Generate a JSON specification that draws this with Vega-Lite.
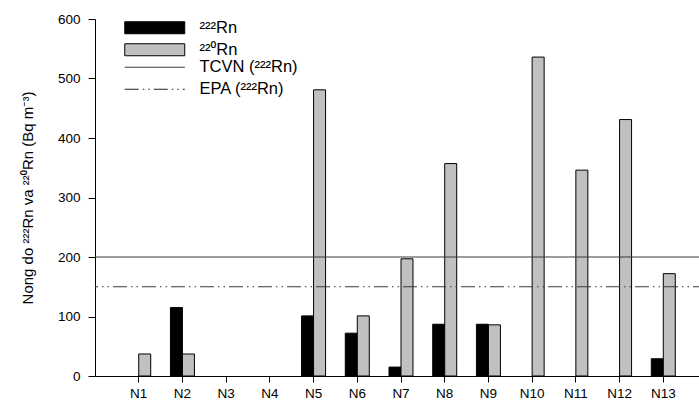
{
  "$schema": "https://vega.github.io/schema/vega-lite/v6.json",
  "width": 612,
  "height": 357,
  "autosize": {"type": "none"},
  "padding": {"left": 95, "top": 19, "right": 0, "bottom": 29},
  "background": "white",
  "config": {
    "view": {"stroke": null},
    "font": "Liberation Sans, Noto Sans",
    "axis": {
      "domainColor": "black",
      "tickColor": "black",
      "labelColor": "black",
      "titleColor": "black",
      "labelFont": "Liberation Sans, Noto Sans",
      "titleFont": "Liberation Sans, Noto Sans",
      "grid": false
    },
    "legend": {
      "labelFont": "Liberation Sans, Noto Sans",
      "labelColor": "black"
    }
  },
  "layer": [
    {
      "data": {
        "values": [
          {"site": "N1", "isotope": "²²⁰Rn", "value": 37},
          {"site": "N2", "isotope": "²²²Rn", "value": 115},
          {"site": "N2", "isotope": "²²⁰Rn", "value": 37},
          {"site": "N5", "isotope": "²²²Rn", "value": 101},
          {"site": "N5", "isotope": "²²⁰Rn", "value": 481},
          {"site": "N6", "isotope": "²²²Rn", "value": 72},
          {"site": "N6", "isotope": "²²⁰Rn", "value": 101},
          {"site": "N7", "isotope": "²²²Rn", "value": 15},
          {"site": "N7", "isotope": "²²⁰Rn", "value": 197},
          {"site": "N8", "isotope": "²²²Rn", "value": 87},
          {"site": "N8", "isotope": "²²⁰Rn", "value": 357},
          {"site": "N9", "isotope": "²²²Rn", "value": 87},
          {"site": "N9", "isotope": "²²⁰Rn", "value": 86},
          {"site": "N10", "isotope": "²²⁰Rn", "value": 536},
          {"site": "N11", "isotope": "²²⁰Rn", "value": 346},
          {"site": "N12", "isotope": "²²⁰Rn", "value": 431},
          {"site": "N13", "isotope": "²²²Rn", "value": 29},
          {"site": "N13", "isotope": "²²⁰Rn", "value": 172}
        ]
      },
      "mark": {"type": "bar", "stroke": "black", "strokeWidth": 1},
      "encoding": {
        "x": {
          "field": "site",
          "type": "nominal",
          "sort": null,
          "scale": {
            "domain": ["N1", "N2", "N3", "N4", "N5", "N6", "N7", "N8", "N9", "N10", "N11", "N12", "N13"],
            "paddingInner": 0.451,
            "paddingOuter": 0.7255
          },
          "axis": {
            "title": null,
            "labelAngle": 0,
            "labelFontSize": 13.5,
            "labelPadding": 4,
            "tickSize": 6,
            "domainWidth": 1.2
          }
        },
        "xOffset": {
          "field": "isotope",
          "type": "nominal",
          "scale": {"domain": ["²²²Rn", "²²⁰Rn"], "paddingInner": 0, "paddingOuter": 0}
        },
        "y": {
          "field": "value",
          "type": "quantitative",
          "scale": {"domain": [0, 600], "nice": false},
          "axis": {
            "title": "Nong do ²²²Rn va ²²⁰Rn (Bq m⁻³)",
            "titleFontSize": 15,
            "titleFontWeight": "normal",
            "titlePadding": 22,
            "values": [0, 100, 200, 300, 400, 500, 600],
            "labelFontSize": 13.5,
            "labelPadding": 8,
            "tickSize": 7
          }
        },
        "fill": {
          "field": "isotope",
          "type": "nominal",
          "scale": {"domain": ["²²²Rn", "²²⁰Rn"], "range": ["black", "#c0c0c0"]},
          "legend": {
            "title": null,
            "orient": "none",
            "legendX": 51.5,
            "legendY": 0.5,
            "padding": 0,
            "symbolType": "M-4,-0.8H4V0.8H-4Z",
            "symbolSize": 225,
            "symbolStrokeColor": "black",
            "symbolStrokeWidth": 1,
            "labelOffset": 36.5,
            "labelFontSize": 16.5,
            "rowPadding": 5
          }
        }
      }
    },
    {
      "data": {
        "values": [
          {"name": "TCVN (²²²Rn)", "value": 200},
          {"name": "EPA (²²²Rn)", "value": 150}
        ]
      },
      "mark": {"type": "rule", "color": "#383838", "strokeWidth": 1},
      "encoding": {
        "y": {"field": "value", "type": "quantitative"},
        "strokeDash": {
          "field": "name",
          "type": "nominal",
          "scale": {
            "domain": ["TCVN (²²²Rn)", "EPA (²²²Rn)"],
            "range": [[1, 0], [14, 4, 1.5, 4, 1.5, 4]]
          },
          "legend": {
            "title": null,
            "orient": "none",
            "legendX": 51.5,
            "legendY": 40,
            "padding": 0,
            "symbolType": "M-4,0H4",
            "symbolSize": 225,
            "symbolStrokeColor": "#222222",
            "symbolStrokeWidth": 1,
            "labelOffset": 36.5,
            "labelFontSize": 16.5,
            "rowPadding": 5
          }
        }
      }
    }
  ]
}
